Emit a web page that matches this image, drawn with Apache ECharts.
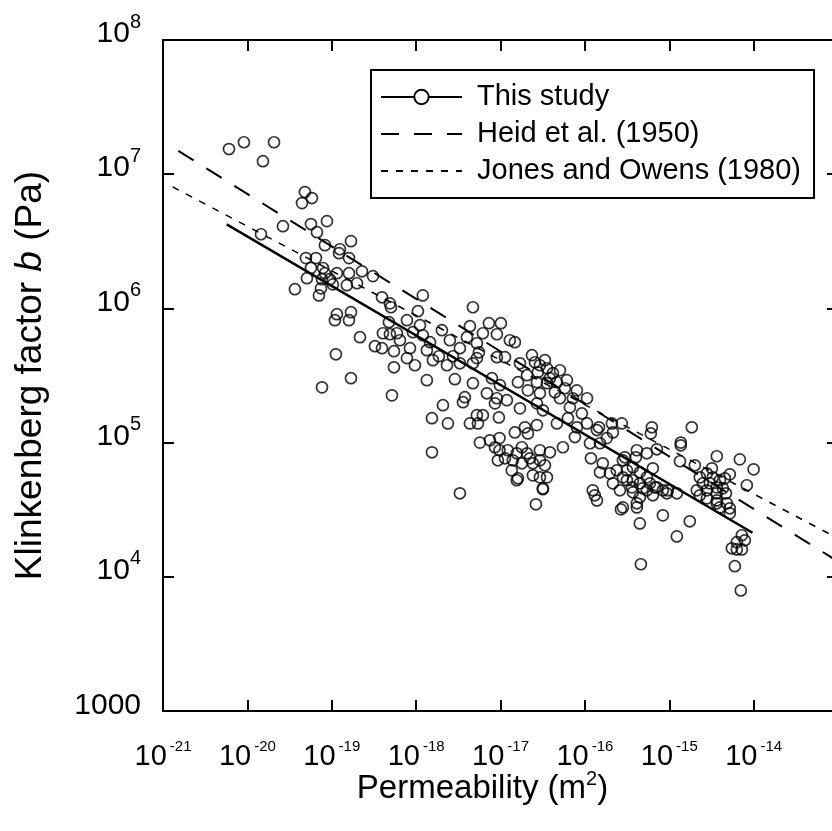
<!DOCTYPE html>
<html>
<head>
<meta charset="utf-8">
<title>Klinkenberg factor vs permeability</title>
<script src="https://cdn.jsdelivr.net/npm/echarts@6/dist/echarts.min.js"></script>
<style>
  html, body { margin: 0; padding: 0; background: #fff; }
  #chart { width: 832px; height: 831px; }
</style>
</head>
<body>
<div id="chart"></div>
<script>
// measured points: [permeability (m2), Klinkenberg factor b (Pa)]
const studyPoints = [
  [6.05e-21,1.54e7],[9.1e-21,1.73e7],[2.07e-20,1.73e7],[1.53e-20,1.25e7],
  [4.81e-20,7.36e6],[5.82e-20,6.64e6],[4.44e-20,6.09e6],[2.64e-20,4.10e6],[1.45e-20,3.57e6],
  [5.67e-20,4.25e6],[8.77e-20,4.47e6],[6.68e-20,3.70e6],[8.30e-20,2.96e6],[1.69e-19,3.17e6],
  [1.25e-19,2.76e6],[1.22e-19,2.58e6],[1.60e-19,2.37e6],[4.94e-20,2.37e6],[6.50e-20,2.37e6],
  [5.67e-20,2.0e6],[7.87e-20,2.0e6],[5.08e-20,1.68e6],[3.66e-20,1.39e6],[7.05e-20,1.25e6],
  [8.30e-20,1.83e6],[7.66e-20,1.65e6],[1.15e-19,1.83e6],[1.60e-19,1.83e6],[2.28e-19,1.89e6],
  [3.08e-19,1.74e6],[1.03e-19,1.51e6],[1.51e-19,1.49e6],[1.99e-19,1.54e6],[9.52e-20,1.65e6],
  [7.45e-20,1.41e6],[1.15e-19,9.05e5],[1.69e-19,9.37e5],[1.09e-19,8.17e5],[1.60e-19,8.17e5],
  [3.94e-19,1.21e6],[4.89e-19,1.09e6],[5.03e-19,1.02e6],[4.76e-19,7.89e5],[4.04e-19,6.53e5],
  [4.89e-19,6.42e5],[5.92e-19,6.53e5],[2.16e-19,6.10e5],[3.25e-19,5.23e5],[3.94e-19,5.05e5],
  [5.46e-19,4.80e5],[1.12e-19,4.55e5],[5.46e-19,3.64e5],[1.69e-19,3.02e5],[7.66e-20,2.58e5],
  [5.17e-19,2.25e5],
  [1.20e-18,1.25e6],[4.71e-18,1.02e6],[1.05e-18,9.53e5],[7.78e-19,8.17e5],[9.16e-19,6.65e5],
  [1.20e-18,6.31e5],[4.34e-18,7.37e5],[7.29e-18,7.76e5],[1.01e-17,7.76e5],[6.18e-18,6.53e5],
  [9.06e-18,6.42e5],[2.51e-18,5.79e5],[4.00e-18,6.10e5],[1.29e-17,5.79e5],[1.48e-17,5.60e5],
  [5.25e-18,5.50e5],[3.30e-18,5.05e5],[8.45e-19,5.05e5],[1.34e-18,4.88e5],[1.86e-18,4.40e5],
  [2.73e-18,4.40e5],[5.55e-18,4.71e5],[5.25e-18,4.26e5],[9.06e-18,4.33e5],[1.13e-17,4.33e5],
  [7.78e-19,4.26e5],[9.68e-19,3.77e5],[1.58e-18,4.11e5],[2.32e-18,3.77e5],[3.30e-18,3.90e5],
  [4.71e-18,3.90e5],[1.70e-17,3.90e5],[2.36e-17,4.48e5],[2.06e-17,3.18e5],[2.93e-17,3.77e5],
  [3.55e-17,3.58e5],[4.18e-17,3.29e5],[6.12e-17,2.92e5],[2.70e-17,2.82e5],[3.55e-17,2.77e5],
  [4.66e-17,2.82e5],[1.34e-18,2.92e5],[2.88e-18,2.97e5],[4.71e-18,2.77e5],[7.91e-18,3.02e5],
  [9.84e-18,2.68e5],[1.61e-17,2.82e5],[2.11e-17,2.45e5],[2.93e-17,2.33e5],[5.06e-17,2.14e5],
  [8.04e-17,2.45e5],[1.06e-16,2.14e5],[7.21e-17,2.14e5],[3.78e-18,2.18e5],[3.59e-18,2.0e5],
  [6.90e-18,2.33e5],[9.06e-18,2.14e5],[1.19e-17,2.07e5],[8.59e-18,1.96e5],[1.70e-17,1.80e5],
  [2.70e-17,1.96e5],[3.18e-17,1.74e5],[6.64e-17,1.83e5],[9.21e-17,1.65e5],[2.08e-18,1.90e5],
  [1.54e-18,1.52e5],[2.38e-18,1.39e5],[4.34e-18,1.39e5],[5.25e-18,1.60e5],[6.18e-18,1.60e5],
  [5.40e-18,1.39e5],[9.57e-18,1.54e5],[1.48e-17,1.19e5],[1.95e-17,1.30e5],[2.11e-17,1.17e5],
  [2.70e-17,1.35e5],[4.66e-17,1.39e5],[6.29e-17,1.52e5],[8.04e-17,1.30e5],[1.06e-16,1.39e5],
  [1.39e-16,1.24e5],[1.47e-16,1.30e5],[2.09e-16,1.39e5],[2.74e-16,1.39e5],[2.15e-16,1.19e5],
  [1.82e-16,1.08e5],[1.51e-16,9.89e4],[1.15e-16,9.89e4],[7.62e-17,1.10e5],[5.70e-18,1.0e5],
  [7.49e-18,1.04e5],[9.73e-18,1.08e5],[9.73e-18,8.77e4],[1.22e-17,8.77e4],[1.56e-17,8.32e4],
  [2.06e-17,8.32e4],[2.93e-17,8.77e4],[3.85e-17,8.47e4],[5.49e-17,9.23e4],[1.13e-17,7.64e4],
  [1.40e-17,7.38e4],[1.79e-17,7.01e4],[2.42e-17,7.01e4],[2.93e-17,7.38e4],[9.31e-18,7.38e4],
  [1.61e-17,5.42e4],[2.42e-17,5.70e4],[2.93e-17,5.51e4],[3.55e-17,5.51e4],[3.18e-17,4.56e4],
  [1.54e-18,8.47e4],[3.30e-18,4.19e4],
  [1.18e-16,7.64e4],[1.63e-16,7.01e4],[1.51e-16,6.01e4],[1.98e-16,5.90e4],[2.39e-16,6.21e4],
  [2.82e-16,7.38e4],[4.13e-16,8.77e4],[5.43e-16,8.32e4],[7.13e-16,8.91e4],[6.22e-16,1.30e5],
  [6.05e-16,1.17e5],[1.37e-15,1.0e5],[1.37e-15,9.55e4],[1.34e-15,7.26e4],[1.85e-15,1.30e5],
  [2.01e-15,6.77e4],[3.66e-15,7.91e4],[6.86e-15,7.50e4],[1.0e-14,6.32e4],[5.22e-15,5.80e4],
  [8.30e-15,4.81e4],
  [3.71e-16,6.55e4],[4.48e-16,6.01e4],[5.43e-16,5.51e4],[6.39e-16,6.43e4],[3.15e-16,5.24e4],
  [3.71e-16,5.24e4],[4.48e-16,4.97e4],[5.89e-16,4.97e4],[7.13e-16,4.64e4],[2.60e-16,4.41e4],
  [3.71e-16,4.26e4],[5.43e-16,4.41e4],[1.24e-16,4.41e4],[1.31e-16,4.05e4],[1.39e-16,3.71e4],
  [2.30e-15,5.51e4],[2.79e-15,5.90e4],[3.28e-15,5.51e4],[3.98e-15,5.24e4],[2.50e-15,4.97e4],
  [3.03e-15,4.97e4],[3.66e-15,4.64e4],[4.32e-15,4.56e4],[2.12e-15,4.41e4],[2.79e-15,4.41e4],
  [3.66e-15,4.19e4],
  [4.02e-16,7.77e4],[2.98e-16,7.77e4],[3.15e-16,6.21e4],[2.82e-16,5.51e4],[3.61e-16,4.64e4],
  [4.86e-16,4.56e4],[6.75e-16,4.64e4],[8.40e-16,4.41e4],[9.62e-16,4.41e4],[1.23e-15,4.19e4],
  [4.48e-16,3.91e4],[2.82e-16,3.29e4],[4.13e-16,3.53e4],[4.13e-16,3.29e4],[8.40e-16,2.87e4],
  [4.48e-16,2.50e4],[1.75e-15,2.59e4],[1.23e-15,2.0e4],[4.61e-16,1.24e4],
  [4.69e-15,4.19e4],[2.79e-15,3.84e4],[3.66e-15,3.71e4],[4.81e-15,3.53e4],[3.98e-15,3.29e4],
  [5.22e-15,3.24e4],[5.22e-15,2.97e4],[7.25e-15,2.04e4],[6.32e-15,1.81e4],[5.52e-15,1.63e4],
  [6.32e-15,1.60e4],[7.25e-15,1.60e4],[7.87e-15,1.87e4],[5.99e-15,1.20e4],[7.05e-15,7.92e3],
  [1.56e-17,5.24e4],[3.18e-17,4.49e4],[2.63e-17,3.47e4],[2.67e-16,3.18e4],[2.15e-16,4.97e4],
  [6.39e-16,4.05e4],[9.37e-16,4.19e4],[2.30e-15,4.05e4],[3.66e-15,3.53e4],
  [2.56e-17,3.97e5],[3.36e-17,4.11e5],[3.85e-17,3.02e5],[5.06e-17,3.46e5],[5.79e-17,2.54e5],
  [4.41e-17,2.37e5],[2.77e-17,3.34e5],[8.59e-18,9.23e4],[1.79e-17,9.23e4],[2.23e-17,7.64e4],
  [3.36e-17,6.77e4],[1.36e-17,6.21e4],[3.20e-15,6.43e4],[4.56e-15,5.42e4],[1.11e-18,7.50e5],
  [1.46e-18,5.60e5],[2.02e-18,6.88e5],[6.43e-19,5.79e5]
]

// fitted / published relations, end points [k, b]
const fitThisStudy = [[5.69e-21, 4.23e6], [9.7e-15, 2.13e4]]
const fitHeid = [[1.52e-21, 1.49e7], [1e-13, 1.30e4]]
const fitJones = [[1.30e-21, 8.05e6], [1e-13, 1.93e4]]

// tick labels: x shows 10^-21 .. 10^-14, y shows 1000, 10^4 .. 10^8
const xTickExps = ['-21', '-20', '-19', '-18', '-17', '-16', '-15', '-14']
const yTickLabels = { 3: ['1000', ''], 4: ['10', '4'], 5: ['10', '5'], 6: ['10', '6'], 7: ['10', '7'], 8: ['10', '8'] }

const FONT = '"Liberation Sans", Arial, Helvetica, sans-serif'

const chart = echarts.init(document.getElementById('chart'))

const hiddenAxisBits = {
  axisLabel: { show: false },
  splitLine: { show: false },
}

const option = {
  animation: false,
  backgroundColor: '#fff',
  textStyle: { fontFamily: FONT, color: '#000' },
  // right frame sits just past the picture edge, as in the original
  grid: { left: 163, top: 40, width: 675, height: 671, containLabel: false, outerBoundsMode: 'none' },
  legend: {
    orient: 'vertical',
    left: 371,
    top: 70,
    padding: [12, 13, 12, 9],
    itemWidth: 81,
    itemHeight: 18,
    itemGap: 7,
    borderColor: '#000',
    borderWidth: 2,
    backgroundColor: '#fff',
    selectedMode: false,
    textStyle: { fontSize: 29, color: '#000', fontFamily: FONT, padding: [0, 0, 0, 10], lineHeight: 30 },
    data: [
      { name: 'This study' },
      { name: 'Heid et al. (1950)', itemStyle: { color: 'rgba(0,0,0,0)', borderWidth: 0 } },
      { name: 'Jones and Owens (1980)', itemStyle: { color: 'rgba(0,0,0,0)', borderWidth: 0 } },
    ],
  },
  xAxis: [
    {
      type: 'log',
      logBase: 10,
      min: 1e-21,
      max: 1e-13,
      position: 'bottom',
      axisLine: { onZero: false, lineStyle: { color: '#000', width: 2 } },
      axisTick: { inside: true, length: 11, lineStyle: { color: '#000', width: 2 } },
      splitLine: { show: false },
      axisLabel: {
        margin: 28,
        showMinLabel: true,
        hideOverlap: false,
        customValues: xTickExps.map((e) => Math.pow(10, Number(e))),
        formatter: (v) => {
          const e = String(Math.round(Math.log10(v)))
          return xTickExps.includes(e) ? '{b|10}{s|' + e + '}' : ''
        },
        rich: {
          b: { fontSize: 29, fontFamily: FONT, color: '#000', verticalAlign: 'bottom' },
          s: { fontSize: 15, fontFamily: FONT, color: '#000', verticalAlign: 'bottom', padding: [0, 0, 17, 3] },
        },
      },
      name: '{a|Permeability (m}{s|2}{a|)}',
      nameLocation: 'middle',
      nameGap: 58,
      nameMoveOverlap: false,
      nameTextStyle: {
        padding: [0, 36, 0, 0],
        rich: {
          a: { fontSize: 33, fontFamily: FONT, color: '#000', verticalAlign: 'bottom' },
          s: { fontSize: 20, fontFamily: FONT, color: '#000', verticalAlign: 'bottom', padding: [0, 0, 16, 0] },
        },
      },
    },
    {
      type: 'log',
      logBase: 10,
      min: 1e-21,
      max: 1e-13,
      position: 'top',
      axisLine: { onZero: false, lineStyle: { color: '#000', width: 2 } },
      axisTick: { inside: true, length: 11, lineStyle: { color: '#000', width: 2 } },
      ...hiddenAxisBits,
    },
  ],
  yAxis: [
    {
      type: 'log',
      logBase: 10,
      min: 1e3,
      max: 1e8,
      position: 'left',
      axisLine: { onZero: false, lineStyle: { color: '#000', width: 2 } },
      axisTick: { inside: true, length: 11, lineStyle: { color: '#000', width: 2 } },
      splitLine: { show: false },
      axisLabel: {
        margin: 22,
        showMinLabel: true,
        showMaxLabel: true,
        formatter: (v) => {
          const lab = yTickLabels[Math.round(Math.log10(v))]
          if (!lab) return ''
          return lab[1] ? '{b|' + lab[0] + '}{s|' + lab[1] + '}' : '{p|' + lab[0] + '}'
        },
        rich: {
          b: { fontSize: 30, fontFamily: FONT, color: '#000', verticalAlign: 'bottom', padding: [0, 0, 19, 0] },
          s: { fontSize: 20, fontFamily: FONT, color: '#000', verticalAlign: 'bottom', padding: [0, 0, 36, 0] },
          p: { fontSize: 30, fontFamily: FONT, color: '#000', verticalAlign: 'bottom', padding: [0, 0, 10, 0] },
        },
      },
      name: '{a|Klinkenberg factor }{i|b}{a| (Pa)}',
      nameLocation: 'middle',
      nameGap: 114,
      nameMoveOverlap: false,
      nameTextStyle: {
        rich: {
          a: { fontSize: 37, fontFamily: FONT, color: '#000' },
          i: { fontSize: 37, fontFamily: FONT, color: '#000', fontStyle: 'italic' },
        },
      },
    },
    {
      type: 'log',
      logBase: 10,
      min: 1e3,
      max: 1e8,
      position: 'right',
      axisLine: { onZero: false, lineStyle: { color: '#000', width: 2 } },
      axisTick: { inside: true, length: 11, lineStyle: { color: '#000', width: 2 } },
      ...hiddenAxisBits,
    },
  ],
  series: [
    {
      name: 'points',
      type: 'scatter',
      data: studyPoints,
      symbol: 'circle',
      symbolSize: 11,
      itemStyle: { color: 'rgba(0,0,0,0)', borderColor: '#000', borderWidth: 1.7 },
      z: 2,
    },
    {
      name: 'This study',
      type: 'line',
      data: fitThisStudy,
      symbol: 'emptyCircle',
      showSymbol: false,
      itemStyle: { color: '#000' },
      lineStyle: { color: '#000', width: 2.5 },
      z: 3,
    },
    {
      name: 'Heid et al. (1950)',
      type: 'line',
      data: fitHeid,
      symbol: 'none',
      itemStyle: { color: '#000' },
      lineStyle: { color: '#000', width: 2, type: [18, 15] },
      z: 3,
    },
    {
      name: 'Jones and Owens (1980)',
      type: 'line',
      data: fitJones,
      symbol: 'none',
      itemStyle: { color: '#000' },
      lineStyle: { color: '#000', width: 1.5, type: [7, 8] },
      z: 3,
    },
  ],
}

chart.setOption(option)
</script>
</body>
</html>
